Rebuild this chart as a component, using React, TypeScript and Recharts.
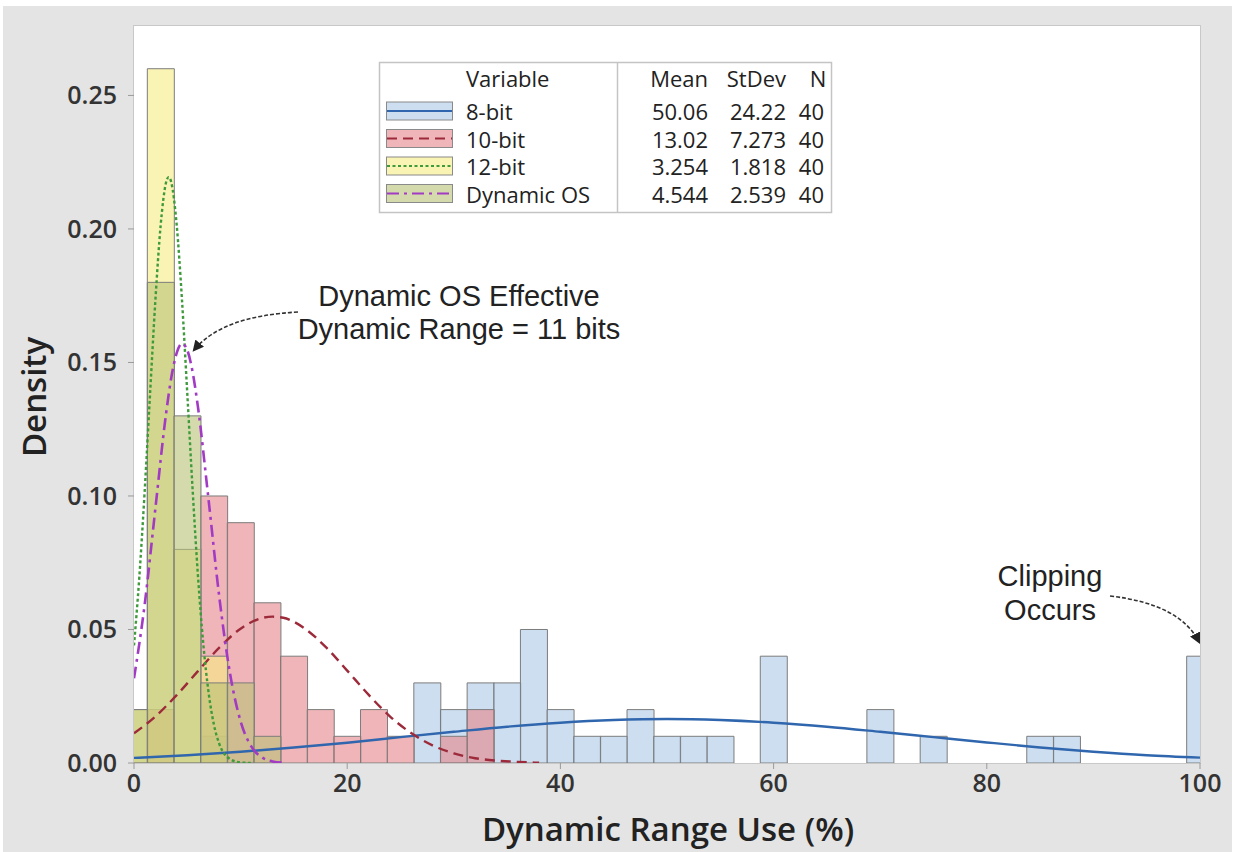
import React from 'react';
import { ComposedChart, Bar, Line, XAxis, YAxis } from 'recharts';

// Histogram bin centers (bin width 2.5)
const binCenters = [
  0, 2.5, 5, 7.5, 10, 12.5, 15, 17.5, 20, 22.5, 25, 27.5, 30, 32.5, 35, 37.5, 40, 42.5, 45, 47.5, 50,
  52.5, 55, 57.5, 60, 62.5, 65, 67.5, 70, 72.5, 75, 77.5, 80, 82.5, 85, 87.5, 90, 92.5, 95, 97.5, 100,
];

// Densities per bin
const density8bit = [
  0, 0, 0, 0.01, 0, 0, 0, 0, 0, 0, 0, 0.03, 0.02, 0.03, 0.03, 0.05, 0.02, 0.01, 0.01, 0.02, 0.01,
  0.01, 0.01, 0, 0.04, 0, 0, 0, 0.02, 0, 0.01, 0, 0, 0, 0.01, 0.01, 0, 0, 0, 0, 0.04,
];
const density10bit = [
  0, 0.02, 0, 0.1, 0.09, 0.06, 0.04, 0.02, 0.01, 0.02, 0.01, 0, 0.01, 0.02, 0, 0, 0, 0, 0, 0, 0,
  0, 0, 0, 0, 0, 0, 0, 0, 0, 0, 0, 0, 0, 0, 0, 0, 0, 0, 0, 0,
];
const density12bit = [
  0.02, 0.26, 0.08, 0.04, 0, 0, 0, 0, 0, 0, 0, 0, 0, 0, 0, 0, 0, 0, 0, 0, 0,
  0, 0, 0, 0, 0, 0, 0, 0, 0, 0, 0, 0, 0, 0, 0, 0, 0, 0, 0, 0,
];
const densityDynOS = [
  0.02, 0.18, 0.13, 0.03, 0.03, 0.01, 0, 0, 0, 0, 0, 0, 0, 0, 0, 0, 0, 0, 0, 0, 0,
  0, 0, 0, 0, 0, 0, 0, 0, 0, 0, 0, 0, 0, 0, 0, 0, 0, 0, 0, 0,
];

// Fitted curves
const fit8X = [0, 5, 10, 15, 20, 25, 30, 35, 40, 45, 50, 55, 60, 65, 70, 75, 80, 85, 90, 95, 100];
const fit8Y = [0.0019, 0.0029, 0.0042, 0.0058, 0.0076, 0.0097, 0.0117, 0.0136, 0.0151, 0.0161, 0.0165,
  0.0161, 0.0151, 0.0136, 0.0117, 0.0097, 0.0077, 0.0058, 0.0042, 0.0029, 0.002];

const fit10X = [0, 2, 4, 6, 8, 10, 12, 13, 14, 16, 18, 20, 22, 24, 26, 28, 30, 32, 34, 36, 38];
const fit10Y = [0.0111, 0.0174, 0.0254, 0.0344, 0.0432, 0.0503, 0.0543, 0.0548, 0.0544, 0.0504, 0.0434,
  0.0346, 0.0256, 0.0175, 0.0112, 0.0066, 0.0036, 0.0018, 0.0009, 0.0004, 0.0001];

const fit12X = [0, 0.5, 1, 1.5, 2, 2.5, 3, 3.25, 3.5, 4, 4.5, 5, 5.5, 6, 6.5, 7, 7.5, 8, 9, 10, 11];
const fit12Y = [0.044, 0.0697, 0.1017, 0.1378, 0.1729, 0.2013, 0.2173, 0.2194, 0.2174, 0.2017, 0.1735,
  0.1383, 0.1023, 0.0701, 0.0446, 0.0263, 0.0143, 0.0072, 0.0015, 0.0002, 0];

const fitDosX = [0, 1, 2, 3, 3.5, 4, 4.5, 5, 5.5, 6, 7, 8, 9, 10, 11, 12, 13, 14];
const fitDosY = [0.0317, 0.0593, 0.0951, 0.1306, 0.1444, 0.1535, 0.1571, 0.1546, 0.1464, 0.1333, 0.0984,
  0.0622, 0.0337, 0.0156, 0.0062, 0.0021, 0.0006, 0.0001];

const xTicks = [0, 20, 40, 60, 80, 100];
const yTicks = [0, 0.05, 0.1, 0.15, 0.2, 0.25];

const legendRows = [
  { name: '8-bit', mean: '50.06', sd: '24.22', n: '40' },
  { name: '10-bit', mean: '13.02', sd: '7.273', n: '40' },
  { name: '12-bit', mean: '3.254', sd: '1.818', n: '40' },
  { name: 'Dynamic OS', mean: '4.544', sd: '2.539', n: '40' },
];

const toNull = (v: number) => (v ? v : null);
const histData = binCenters.map((x, i) => ({
  x,
  b8: toNull(density8bit[i]),
  b10: toNull(density10bit[i]),
  b12: toNull(density12bit[i]),
  bdos: toNull(densityDynOS[i]),
}));
const fit8 = fit8X.map((x, i) => ({ x, y: fit8Y[i] }));
const fit10 = fit10X.map((x, i) => ({ x, y: fit10Y[i] }));
const fit12 = fit12X.map((x, i) => ({ x, y: fit12Y[i] }));
const fitDos = fitDosX.map((x, i) => ({ x, y: fitDosY[i] }));

const STYLES = {
  s8: { fill: '#acc8e6', line: '#2f66ad', dash: undefined as string | undefined },
  s10: { fill: '#e68489', line: '#9c2a3a', dash: '10 6' },
  s12: { fill: '#f7ec82', line: '#3f9a3c', dash: '3 2.5' },
  sdos: { fill: '#b9c275', line: '#a23bc4', dash: '12 5 3 5' },
};
const FILL_OP = 0.6;
const BAR_STROKE = '#7c7c7c';

const W = 1235;
const H = 852;
const PLOT_L = 134;
const PLOT_T = 26;
const PLOT_R = 1200;
const PLOT_B = 763;

const tickFont = { fontFamily: '"Open Sans", "Noto Sans", sans-serif', fontSize: 25, fontWeight: 600, fill: '#333' };

export default function App() {
  const xAxisCommon = {
    type: 'number' as const,
    dataKey: 'x',
    domain: [0, 100] as [number, number],
    allowDataOverflow: true,
  };
  const legendFont = '"Open Sans", "Noto Sans", sans-serif';
  const rowY = [111, 138.5, 166, 193.5];
  const titleStyle = { fontFamily: '"Open Sans", "Noto Sans", sans-serif', fontSize: 33, fontWeight: 600, fill: '#222' };
  return (
    <div style={{ position: 'absolute', left: 0, top: 0, width: W, height: H, background: '#ffffff', overflow: 'hidden' }}>
      <div style={{ position: 'absolute', left: 3, top: 6, width: W - 6, height: H - 6, background: '#e4e4e4' }} />
      <div
        style={{
          position: 'absolute',
          left: PLOT_L,
          top: PLOT_T,
          width: PLOT_R - PLOT_L,
          height: PLOT_B - PLOT_T,
          background: '#ffffff',
          boxShadow: '0 0 0 1px #c8c8c8',
        }}
      />
      <div style={{ position: 'absolute', left: 0, top: 0 }}>
        <ComposedChart
          width={W}
          height={H}
          data={histData}
          barCategoryGap={0}
          barGap={0}
          margin={{ top: PLOT_T, right: W - PLOT_R, bottom: H - PLOT_B - 40, left: PLOT_L - 60 }}
        >
          <XAxis
            {...xAxisCommon}
            xAxisId="h8"
            ticks={xTicks}
            height={40}
            axisLine={false}
            tickLine={{ stroke: '#9a9a9a' }}
            tickSize={6}
            tickMargin={5}
            tick={tickFont}
            interval={0}
          />
          <XAxis {...xAxisCommon} xAxisId="h10" hide height={0} />
          <XAxis {...xAxisCommon} xAxisId="h12" hide height={0} />
          <XAxis {...xAxisCommon} xAxisId="hdos" hide height={0} />
          <XAxis {...xAxisCommon} xAxisId="fit" hide height={0} />
          <YAxis
            type="number"
            domain={[0, 0.276]}
            allowDataOverflow
            ticks={yTicks}
            width={60}
            axisLine={false}
            tickLine={{ stroke: '#9a9a9a' }}
            tickSize={6}
            tickMargin={11}
            tick={tickFont}
            tickFormatter={(v: number) => v.toFixed(2)}
            interval={0}
          />
          <Bar xAxisId="h8" dataKey="b8" fill={STYLES.s8.fill} fillOpacity={FILL_OP} stroke={BAR_STROKE} strokeWidth={1} isAnimationActive={false} />
          <Bar xAxisId="h10" dataKey="b10" fill={STYLES.s10.fill} fillOpacity={FILL_OP} stroke={BAR_STROKE} strokeWidth={1} isAnimationActive={false} />
          <Bar xAxisId="h12" dataKey="b12" fill={STYLES.s12.fill} fillOpacity={FILL_OP} stroke={BAR_STROKE} strokeWidth={1} isAnimationActive={false} />
          <Bar xAxisId="hdos" dataKey="bdos" fill={STYLES.sdos.fill} fillOpacity={FILL_OP} stroke={BAR_STROKE} strokeWidth={1} isAnimationActive={false} />
          <Line xAxisId="fit" data={fit8} dataKey="y" type="monotone" stroke={STYLES.s8.line} strokeWidth={2.4} dot={false} activeDot={false} isAnimationActive={false} />
          <Line xAxisId="fit" data={fit10} dataKey="y" type="monotone" stroke={STYLES.s10.line} strokeWidth={2.4} strokeDasharray={STYLES.s10.dash} dot={false} activeDot={false} isAnimationActive={false} />
          <Line xAxisId="fit" data={fit12} dataKey="y" type="monotone" stroke={STYLES.s12.line} strokeWidth={2.4} strokeDasharray={STYLES.s12.dash} dot={false} activeDot={false} isAnimationActive={false} />
          <Line xAxisId="fit" data={fitDos} dataKey="y" type="monotone" stroke={STYLES.sdos.line} strokeWidth={2.6} strokeDasharray={STYLES.sdos.dash} dot={false} activeDot={false} isAnimationActive={false} />
        </ComposedChart>
      </div>
      <svg width={W} height={H} style={{ position: 'absolute', left: 0, top: 0, pointerEvents: 'none' }}>
        <defs>
          <marker id="arrowHead" viewBox="0 0 10 10" refX="8" refY="5" markerWidth="7" markerHeight="7" orient="auto-start-reverse">
            <path d="M0,0 L10,5 L0,10 z" fill="#222" />
          </marker>
        </defs>
        {/* Axis titles */}
        <text x={33} y={397} transform="rotate(-90 33 397)" textAnchor="middle" dominantBaseline="central" style={titleStyle}>
          Density
        </text>
        <text x={668} y={828} textAnchor="middle" dominantBaseline="central" style={titleStyle}>
          Dynamic Range Use (%)
        </text>

        {/* Legend table */}
        <rect x={379.5} y={62.5} width={452} height={150} fill="#ffffff" stroke="#c4c4c4" strokeWidth={1.5} />
        <line x1={617.5} y1={62.5} x2={617.5} y2={212.5} stroke="#c4c4c4" strokeWidth={1.5} />
        <g style={{ fontFamily: legendFont, fontSize: 22, fill: '#222' }}>
          <text x={466} y={78} dominantBaseline="central">Variable</text>
          <text x={708} y={78} textAnchor="end" dominantBaseline="central">Mean</text>
          <text x={786} y={78} textAnchor="end" dominantBaseline="central">StDev</text>
          <text x={818} y={78} textAnchor="middle" dominantBaseline="central">N</text>
          {legendRows.map((r, i) => (
            <g key={r.name}>
              <text x={466} y={rowY[i]} dominantBaseline="central">{r.name}</text>
              <text x={708} y={rowY[i]} textAnchor="end" dominantBaseline="central">{r.mean}</text>
              <text x={786} y={rowY[i]} textAnchor="end" dominantBaseline="central">{r.sd}</text>
              <text x={824} y={rowY[i]} textAnchor="end" dominantBaseline="central">{r.n}</text>
            </g>
          ))}
        </g>
        {[STYLES.s8, STYLES.s10, STYLES.s12, STYLES.sdos].map((s, i) => (
          <g key={i}>
            <rect x={386.5} y={rowY[i] - 9} width={66} height={18} fill={s.fill} fillOpacity={FILL_OP} stroke="#8a8a8a" strokeWidth={1} />
            <line x1={387} y1={rowY[i]} x2={452} y2={rowY[i]} stroke={s.line} strokeWidth={2.2} strokeDasharray={s.dash} />
          </g>
        ))}

        {/* Annotations */}
        <g style={{ fontFamily: '"Liberation Sans", Arial, sans-serif', fontSize: 29, fill: '#222' }}>
          <text x={459} y={306} textAnchor="middle">Dynamic OS Effective</text>
          <text x={459} y={339} textAnchor="middle">Dynamic Range = 11 bits</text>
          <text x={1050} y={586} textAnchor="middle">Clipping</text>
          <text x={1050} y={620} textAnchor="middle">Occurs</text>
        </g>
        <path d="M 298 312 Q 222 316 194 350" fill="none" stroke="#333" strokeWidth={1.6} strokeDasharray="4 2" markerEnd="url(#arrowHead)" />
        <path d="M 1110 596 Q 1180 604 1199 642" fill="none" stroke="#333" strokeWidth={1.6} strokeDasharray="4 2" markerEnd="url(#arrowHead)" />
      </svg>
    </div>
  );
}
